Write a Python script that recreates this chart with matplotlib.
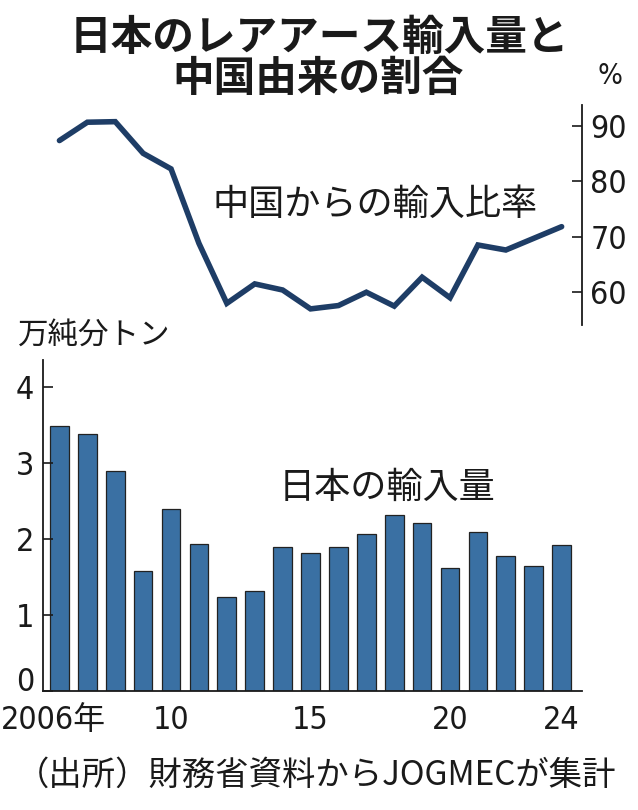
import matplotlib
matplotlib.use("Agg")
import matplotlib.pyplot as plt
import matplotlib.transforms as mtransforms

plt.rcParams['font.family'] = ['Noto Sans CJK JP', 'DejaVu Sans']

# data
years = list(range(2006, 2025))
imports = [3.49, 3.38, 2.89, 1.58, 2.40, 1.93, 1.24, 1.32, 1.90, 1.81,
           1.90, 2.07, 2.31, 2.21, 1.62, 2.09, 1.77, 1.65, 1.92]
china_share = [87.3, 90.6, 90.7, 85.0, 82.2, 68.8, 58.0, 61.5, 60.4, 57.0,
               57.6, 60.0, 57.5, 62.7, 59.0, 68.5, 67.6, 69.7, 71.8]
xtick_years = [2006, 2010, 2015, 2020, 2024]
xtick_labels = ['2006年', '10', '15', '20', '24']
share_ticks = [60, 70, 80, 90]
import_ticks = [0, 1, 2, 3, 4]

W, H = 638, 810
num_font = ['DejaVu Sans', 'Noto Sans CJK JP']
ink = '#1a1a1a'
bar_color = '#3a70a3'
line_color = '#1e3d66'

fig = plt.figure(figsize=(W / 100, H / 100), dpi=100)

def fx(px):
    return px / W

def fy(py):
    return 1 - py / H

def nudge(label, dx_px, dy_px):
    off = mtransforms.ScaledTranslation(dx_px / 100, dy_px / 100, fig.dpi_scale_trans)
    label.set_transform(label.get_transform() + off)

x0, x1 = 42.7, 582
ax_bar = fig.add_axes([fx(x0), fy(690.7), fx(x1) - fx(x0), fy(360) - fy(690.7)])
ax_line = fig.add_axes([fx(x0), fy(325), fx(x1) - fx(x0), fy(105) - fy(325)])

xlim = (2005.4, 2024.73)
num_kw = dict(family=num_font, fontstretch='condensed', fontsize=23, color=ink)

# bottom: import volume bars
ax_bar.bar(years, imports, width=0.67, color=bar_color, edgecolor='#222222', linewidth=0.9)
ax_bar.set_xlim(*xlim)
ax_bar.set_ylim(0, 4.36)
for s in ['top', 'right']:
    ax_bar.spines[s].set_visible(False)
for s in ['left', 'bottom']:
    ax_bar.spines[s].set_color(ink)
    ax_bar.spines[s].set_linewidth(1.3)
ax_bar.set_yticks(import_ticks)
ax_bar.set_yticklabels([str(v) for v in import_ticks], **num_kw)
ax_bar.tick_params(axis='y', direction='in', length=7, width=1.2, color=ink, pad=6)
ax_bar.set_xticks(xtick_years)
ax_bar.set_xticklabels(xtick_labels, **num_kw)
ax_bar.tick_params(axis='x', length=0, pad=10)
nudge(ax_bar.get_xticklabels()[0], -6, 0)
# the zero label sits above the baseline
nudge(ax_bar.get_yticklabels()[0], 0, 12)

# top: share from China
ax_line.plot(years, china_share, color=line_color, linewidth=4, solid_capstyle='round',
             solid_joinstyle='miter')
ax_line.set_xlim(*xlim)
ax_line.set_ylim(54.1, 93.7)
for s in ['top', 'left', 'bottom']:
    ax_line.spines[s].set_visible(False)
ax_line.spines['right'].set_color(ink)
ax_line.spines['right'].set_linewidth(1.3)
ax_line.set_xticks([])
ax_line.yaxis.tick_right()
ax_line.set_yticks(share_ticks)
ax_line.set_yticklabels([str(v) for v in share_ticks], **num_kw)
ax_line.tick_params(axis='y', direction='in', length=7, width=1.2, color=ink, pad=6)

# texts
fig.text(0.5, fy(38), '日本のレアアース輸入量と', ha='center', va='center',
         fontsize=30, fontweight='bold', color=ink)
fig.text(fx(318), fy(79), '中国由来の割合', ha='center', va='center',
         fontsize=30, fontweight='bold', color=ink)
fig.text(fx(610), fy(76), '%', ha='center', va='center', family=num_font,
         fontstretch='condensed', fontsize=21, color=ink)
fig.text(fx(18), fy(335), '万純分トン', ha='left', va='center', fontsize=22, color=ink)
fig.text(fx(375), fy(205), '中国からの輸入比率', ha='center', va='center', fontsize=26, color=ink)
fig.text(fx(387), fy(488), '日本の輸入量', ha='center', va='center', fontsize=26, color=ink)
fig.text(fx(316), fy(775), '（出所）財務省資料からJOGMECが集計', ha='center', va='center',
         fontsize=24, color=ink)

fig.savefig('out.png', dpi=100, facecolor='white')
